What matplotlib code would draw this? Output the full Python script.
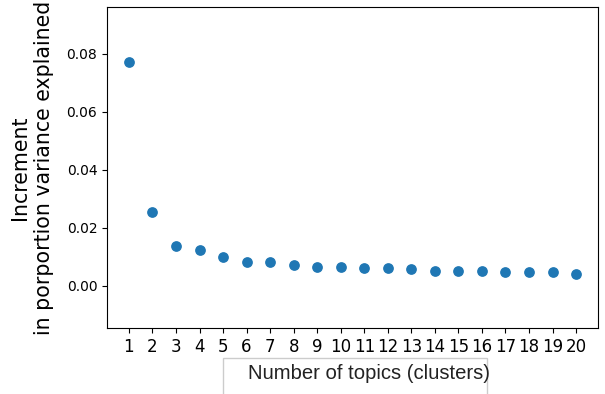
import matplotlib.pyplot as plt
from matplotlib.patches import Rectangle

n_topics = list(range(1, 21))
increment = [0.0772, 0.0256, 0.0139, 0.0124, 0.0099, 0.0084, 0.0084, 0.0071, 0.0067, 0.0067,
             0.0062, 0.0062, 0.0058, 0.0052, 0.0052, 0.0052, 0.0047, 0.0047, 0.0047, 0.0042]

fig = plt.figure(figsize=(6.05, 3.94), dpi=100)
ax = fig.add_axes([0.1769, 0.1675, 0.8115, 0.8147])

ax.scatter(n_topics, increment, color='#1f77b4', s=45)
ax.set_xlim(0.07, 20.93)
ax.set_ylim(-0.0145, 0.0962)
ax.set_xticks(n_topics)
ax.tick_params(axis='x', labelsize=12)
ax.tick_params(axis='y', labelsize=10)
ax.set_yticks([0.0, 0.02, 0.04, 0.06, 0.08])
ax.set_ylabel('Increment\nin porportion variance explained', fontsize=14.8)
ax.yaxis.set_label_coords(-0.109, 0.5)

# x label sits in a box below the axes
fig.patches.append(Rectangle((223 / 605, -0.05), 264 / 605, 1 - 358 / 394 + 0.05,
                             transform=fig.transFigure, fill=False,
                             edgecolor='#cccccc', linewidth=1))
fig.text(248 / 605, 1 - 379 / 394, 'Number of topics (clusters)', fontsize=14.6,
         family='Liberation Sans', color='#222222', ha='left', va='baseline')

fig.savefig('out.png', dpi=100)
